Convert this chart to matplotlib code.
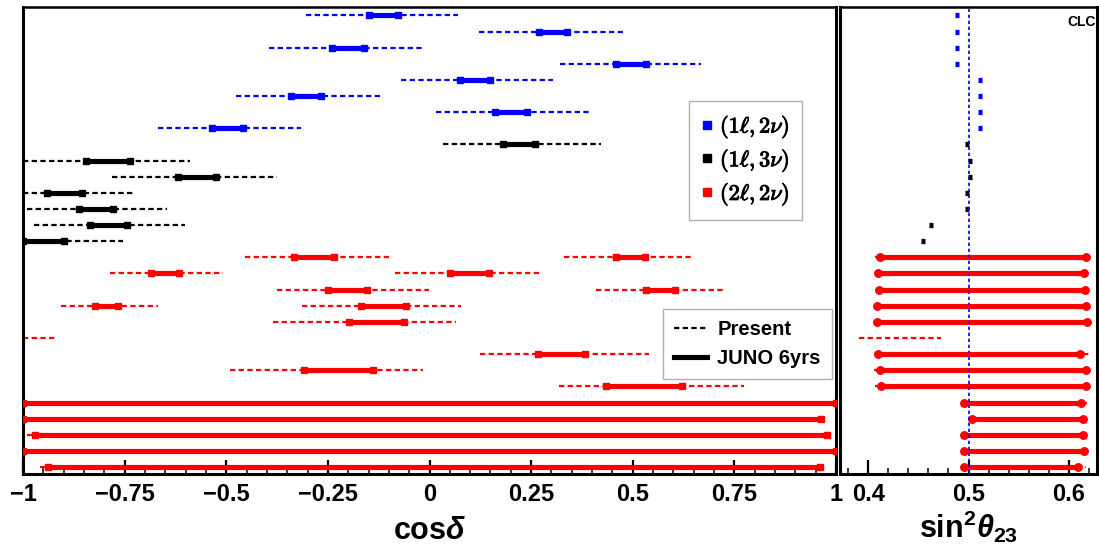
import matplotlib
matplotlib.use('Agg')
import matplotlib.pyplot as plt
import matplotlib.patheffects as pe
from matplotlib.lines import Line2D
from matplotlib.ticker import MultipleLocator

plt.rcParams['font.family'] = ['Liberation Sans', 'DejaVu Sans']
plt.rcParams['font.weight'] = 'bold'
plt.rcParams['mathtext.fontset'] = 'custom'
plt.rcParams['mathtext.rm'] = 'Liberation Sans:bold'
plt.rcParams['mathtext.it'] = 'Liberation Sans:italic:bold'
plt.rcParams['mathtext.bf'] = 'Liberation Sans:bold'

# ============ data ============
# one entry per row, top to bottom
row_group = ['b'] * 8 + ['k'] * 7 + ['r'] * 14
group_color = {'b': '#0000ff', 'k': '#000000', 'r': '#ff0000'}
group_label = {'b': r'$(1\ell, 2\nu)$', 'k': r'$(1\ell, 3\nu)$', 'r': r'$(2\ell, 2\nu)$'}

# cos(delta): present ranges (dashed) and JUNO 6yrs ranges (solid)
cos_present = [
    [(-0.304, 0.069)], [(0.123, 0.477)], [(-0.395, -0.016)], [(0.321, 0.668)],
    [(-0.071, 0.304)], [(-0.477, -0.123)], [(0.015, 0.397)], [(-0.667, -0.317)],
    [(0.033, 0.421)], [(-1.0, -0.589)], [(-0.781, -0.374)], [(-1.0, -0.724)],
    [(-0.991, -0.646)], [(-0.974, -0.601)], [(-1.0, -0.755)],
    [(-0.454, -0.093), (0.331, 0.646)], [(-0.786, -0.509), (-0.085, 0.274)],
    [(-0.375, -0.002), (0.409, 0.726)], [(-0.907, -0.668), (-0.314, 0.078)],
    [(-0.384, 0.066)], [(-1.0, -0.922)], [(0.124, 0.540)], [(-0.491, -0.016)],
    [(0.319, 0.773)], [(-1.0, 1.0)], [(-1.0, 0.963)], [(-0.99, 0.986)],
    [(-1.0, 1.0)], [(-0.959, 0.962)],
]
cos_juno = [
    [(-0.149, -0.078)], [(0.270, 0.339)], [(-0.240, -0.161)], [(0.460, 0.532)],
    [(0.074, 0.150)], [(-0.341, -0.266)], [(0.161, 0.241)], [(-0.534, -0.458)],
    [(0.182, 0.260)], [(-0.844, -0.738)], [(-0.618, -0.526)], [(-0.942, -0.855)],
    [(-0.863, -0.779)], [(-0.834, -0.744)], [(-1.0, -0.898)],
    [(-0.334, -0.236), (0.460, 0.529)], [(-0.685, -0.616), (0.051, 0.147)],
    [(-0.250, -0.154), (0.532, 0.604)], [(-0.823, -0.766), (-0.169, -0.059)],
    [(-0.199, -0.063)], [], [(0.266, 0.382)], [(-0.309, -0.139)],
    [(0.435, 0.622)], [(-1.0, 1.0)], [(-1.0, 0.963)], [(-0.971, 0.979)],
    [(-1.0, 1.0)], [(-0.938, 0.961)],
]

# sin^2(theta23): narrow predictions for the first 15 rows
s23_point = [0.4887, 0.4887, 0.4887, 0.4887, 0.5112, 0.5112, 0.5112, 0.5112,
             0.4986, 0.5013, 0.5013, 0.4986, 0.4986, 0.4625, 0.4545]
# ranges for the (2l, 2nu) rows
s23_present = [
    (0.4067, 0.6174), (0.4068, 0.620), (0.4068, 0.621), (0.4058, 0.619),
    (0.4085, 0.618), (0.391, 0.473), (0.4068, 0.620), (0.4063, 0.621),
    (0.4066, 0.6175), (0.4953, 0.618), (0.503, 0.614), (0.4953, 0.6175),
    (0.4953, 0.615), (0.496, 0.6175),
]
s23_juno = [
    (0.4117, 0.6174), (0.410, 0.615), (0.411, 0.616), (0.4085, 0.617),
    (0.4085, 0.618), None, (0.410, 0.6114), (0.4123, 0.617),
    (0.413, 0.6175), (0.4953, 0.612), (0.503, 0.614), (0.4953, 0.614),
    (0.4953, 0.615), (0.496, 0.609),
]
s23_ref = 0.5

cos_ticks = [-1, -0.75, -0.5, -0.25, 0, 0.25, 0.5, 0.75, 1]
cos_ticklabels = ['\u22121', '\u22120.75', '\u22120.5', '\u22120.25', '0',
                  '0.25', '0.5', '0.75', '1']
s23_ticks = [0.4, 0.5, 0.6]
s23_ticklabels = ['0.4', '0.5', '0.6']

# ============ figure ============
W, H = 1099, 552
fig = plt.figure(figsize=(W / 100, H / 100), dpi=100)
ax1 = fig.add_axes([23 / W, 1 - 474 / H, 813 / W, 467 / H])
ax2 = fig.add_axes([840 / W, 1 - 474 / H, 257 / W, 467 / H])

DASH = (0, (2.4, 1.5))
LW_P = 1.6   # present (dashed)
LW_J = 3.7   # JUNO (solid)
n_rows = len(row_group)

for i in range(n_rows):
    y = i + 1
    c = group_color[row_group[i]]
    for lo, hi in cos_present[i]:
        ax1.plot([lo, hi], [y, y], color=c, lw=LW_P, ls=DASH, zorder=2)
    for lo, hi in cos_juno[i]:
        ax1.plot([lo, hi], [y, y], color=c, lw=LW_J, marker='s', ms=4.6,
                 solid_capstyle='butt', zorder=3)

# right panel: tiny blocks for narrow predictions
for i, v in enumerate(s23_point):
    c = group_color[row_group[i]]
    ax2.plot([v - 0.0018, v + 0.0018], [i + 1, i + 1], color=c, lw=3.8,
             solid_capstyle='butt', zorder=3)

n_pt = len(s23_point)
for j in range(len(s23_present)):
    y = n_pt + j + 1
    c = group_color[row_group[n_pt + j]]
    lo, hi = s23_present[j]
    ax2.plot([lo, hi], [y, y], color=c, lw=LW_P, ls=DASH, zorder=2)
    if s23_juno[j] is not None:
        lo, hi = s23_juno[j]
        ax2.plot([lo, hi], [y, y], color=c, lw=LW_J, marker='o', ms=5.4,
                 solid_capstyle='butt', zorder=3)

ax2.axvline(s23_ref, color='#0000ff', lw=1.2, ls=(0, (2, 1.6)), zorder=4)

# ============ axes styling ============
for ax in (ax1, ax2):
    ax.set_ylim(n_rows + 0.43, 0.48)
    ax.set_yticks([])
    for s in ax.spines.values():
        s.set_linewidth(2.2)
    ax.spines['top'].set_linewidth(1.8)
    ax.tick_params(axis='x', which='major', direction='in', length=10,
                   width=1.6, labelsize=17, pad=6.5, top=False)
    ax.tick_params(axis='x', which='minor', direction='in', length=4.5,
                   width=1.1, top=False)

ax1.set_xlim(-1, 1)
ax1.set_xticks(cos_ticks)
ax1.set_xticklabels(cos_ticklabels)
ax1.xaxis.set_minor_locator(MultipleLocator(0.05))
ax1.set_xlabel('cos$\\delta$', fontsize=22, fontweight='bold', labelpad=7)

ax2.set_xlim(0.372, 0.628)
ax2.set_xticks(s23_ticks)
ax2.set_xticklabels(s23_ticklabels)
ax2.xaxis.set_minor_locator(MultipleLocator(0.02))
ax2.set_xlabel(r'$\mathrm{sin}^{2}\theta_{23}$', fontsize=22, labelpad=2)

ax2.text(0.995, 0.983, 'CLC', transform=ax2.transAxes, ha='right', va='top',
         fontsize=10, fontweight='bold')

# ============ legends ============
h1 = [Line2D([], [], color=group_color[g], marker='s', ls='none', ms=5.8)
      for g in ('b', 'k', 'r')]
leg1 = ax1.legend(h1, [group_label[g] for g in ('b', 'k', 'r')],
                  loc='upper right', bbox_to_anchor=(0.958, 0.798),
                  borderaxespad=0, fancybox=False, edgecolor='#b0b0b0',
                  fontsize=16, handlelength=0.55, handletextpad=0.3,
                  labelspacing=0.3, borderpad=0.55, framealpha=1)
leg1.get_frame().set_linewidth(1.0)
for t in leg1.get_texts():
    t.set_math_fontfamily('cm')
    t.set_path_effects([pe.withStroke(linewidth=0.7, foreground='black')])
ax1.add_artist(leg1)

h2 = [Line2D([], [], color='black', lw=LW_P, ls=DASH),
      Line2D([], [], color='black', lw=LW_J)]
leg2 = ax1.legend(h2, ['Present', 'JUNO 6yrs'], loc='upper right',
                  bbox_to_anchor=(0.9947, 0.353), borderaxespad=0,
                  fancybox=False, edgecolor='#b0b0b0', framealpha=1,
                  prop={'weight': 'bold', 'size': 14.5}, handlelength=1.65,
                  handletextpad=0.5, labelspacing=0.48, borderpad=0.55)
leg2.get_frame().set_linewidth(1.0)

fig.savefig('out.png', dpi=100)
